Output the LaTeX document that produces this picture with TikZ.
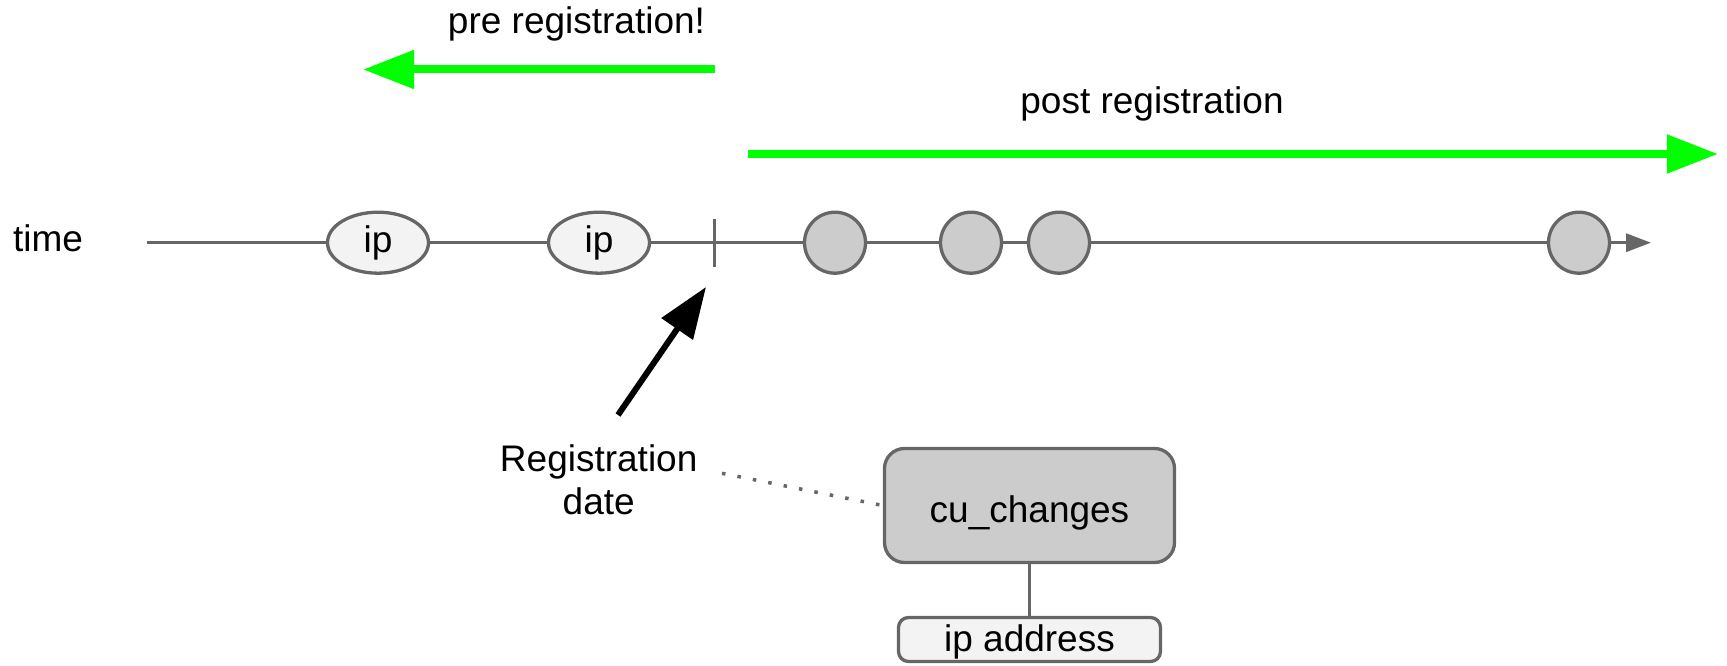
\documentclass[tikz,border=0pt]{standalone}
\usepackage{fontspec}
\setmainfont{Liberation Sans}
\usetikzlibrary{arrows.meta,shapes.geometric}
\definecolor{edgegray}{HTML}{666666}
\definecolor{darkfill}{HTML}{CCCCCC}
\definecolor{lightfill}{HTML}{F3F3F3}
\definecolor{brightgreen}{HTML}{00FF00}
\begin{document}
\begin{tikzpicture}[x=1bp,y=-1bp,
  txt/.style={font=\fontsize{37bp}{43.3bp}\selectfont, inner sep=0pt, text=black},
  tl/.style={draw=edgegray, line width=3.3bp},
  ipnode/.style={ellipse, draw=edgegray, fill=lightfill, line width=3.3bp,
    minimum width=101bp, minimum height=61bp, inner sep=0pt,
    font=\fontsize{37bp}{43.3bp}\selectfont},
  evnode/.style={circle, draw=edgegray, fill=darkfill, line width=3.3bp,
    minimum size=61bp, inner sep=0pt},
  greenarrow/.style={draw=brightgreen, line width=8bp, -{Triangle[length=51bp,width=37bp]}},
  blackarrow/.style={draw=black, line width=6bp, -{Triangle[length=51bp,width=37bp]}},
  boxnode/.style={rectangle, draw=edgegray, line width=3.3bp, inner sep=0pt,
    font=\fontsize{37bp}{43.3bp}\selectfont},
  dotline/.style={draw=edgegray, line width=3.5bp, dash pattern=on 3.5bp off 12.2bp}
]
\useasboundingbox (0,0) rectangle (1727,666);

% labels
\node[txt, anchor=base] (prelbl) at (576.5,33.3) {pre registration!};
\node[txt, anchor=base] (postlbl) at (1152,113.5) {post registration};
\node[txt, anchor=base] (timelbl) at (48,251.7) {time};
\node[txt, align=center] (regdate) at (598.7,480) {Registration\\date};

% green arrows
\coordinate (prestart) at (715,69.5);
\coordinate (preend) at (363,69.5);
\coordinate (poststart) at (748,154);
\coordinate (postend) at (1718,154);
\draw[greenarrow] (prestart) -- (preend);
\draw[greenarrow] (poststart) -- (postend);

% timeline nodes
\node[ipnode] (ip1) at (378,242.7) {ip};
\node[ipnode] (ip2) at (599,242.7) {ip};
\node[evnode] (c1) at (835,242.7) {};
\node[evnode] (c2) at (971,242.7) {};
\node[evnode] (c3) at (1059,242.7) {};
\node[evnode] (c4) at (1579,242.7) {};
\coordinate (tstart) at (146.5,242.7);
\coordinate (tend) at (1651,242.7);
\coordinate (ticktop) at (714.3,219);
\coordinate (tickbot) at (714.3,267);

\draw[tl] (tstart) -- (ip1);
\draw[tl] (ip1) -- (ip2);
\draw[tl] (ip2) -- (c1);
\draw[tl] (c1) -- (c2);
\draw[tl] (c2) -- (c3);
\draw[tl] (c3) -- (c4);
\draw[tl, -{Triangle[length=25bp,width=18bp]}] (c4) -- (tend);
\draw[tl] (ticktop) -- (tickbot);

% registration pointer
\coordinate (ptrtail) at (618,415);
\coordinate (ptrtip) at (706,287);
\draw[blackarrow] (ptrtail) -- (ptrtip);

% boxes
\node[boxnode, fill=darkfill, rounded corners=20bp, minimum width=290bp, minimum height=114bp]
  (cu) at (1029.5,505.5) {\raisebox{-7bp}[\height][\depth]{cu\_changes}};
\node[boxnode, fill=lightfill, rounded corners=10bp, minimum width=262bp, minimum height=44bp]
  (ipaddr) at (1029.5,639.5) {\raisebox{-2bp}[\height][\depth]{ip address}};
\draw[tl] (cu) -- (ipaddr);

\coordinate (dotstart) at (722,473.3);
\draw[dotline] (dotstart) -- (cu.west);
\end{tikzpicture}
\end{document}
